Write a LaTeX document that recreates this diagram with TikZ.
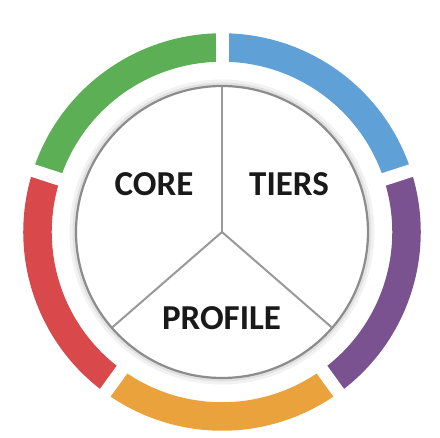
\documentclass[tikz,border=0pt]{standalone}
\usepackage{fontspec}
\setmainfont{Carlito}
\definecolor{segGreen}{HTML}{5DAF55}
\definecolor{segBlue}{HTML}{5FA0D7}
\definecolor{segPurple}{HTML}{7B5290}
\definecolor{segOrange}{HTML}{E9A23C}
\definecolor{segRed}{HTML}{D9484B}
\pgfdeclareradialshading{innerglow}{\pgfpoint{0bp}{0bp}}{color(0bp)=(white); color(34bp)=(white); color(44bp)=(black!9); color(50bp)=(black!32)}
\begin{document}
\begin{tikzpicture}[x=1pt,y=1pt,
  ringseg/.style={line width=28.5pt},
  gapcut/.style={white, line width=13pt},
  spoke/.style={draw=black!40, line width=2pt},
  seclabel/.style={font=\fontsize{35}{40}\selectfont\bfseries, text=black!90, inner sep=0pt}]
\useasboundingbox (0,0) rectangle (440,438);
\coordinate (c) at (222,206);

% outer ring of five coloured segments
\draw[ringseg, segBlue]   ([shift={(18:184.5)}]c)  arc[start angle=18,  end angle=90,  radius=184.5];
\draw[ringseg, segGreen]  ([shift={(90:184.5)}]c)  arc[start angle=90,  end angle=162, radius=184.5];
\draw[ringseg, segRed]    ([shift={(162:184.5)}]c) arc[start angle=162, end angle=234, radius=184.5];
\draw[ringseg, segOrange] ([shift={(234:184.5)}]c) arc[start angle=234, end angle=306, radius=184.5];
\draw[ringseg, segPurple] ([shift={(306:184.5)}]c) arc[start angle=306, end angle=378, radius=184.5];
\foreach \a in {18,90,162,234,306}
  \draw[gapcut] ([shift={(\a:160)}]c) -- ([shift={(\a:212)}]c);

% inner disc with soft shadow and glow
\fill[black, opacity=0.05] (c) circle (152.5);
\fill[black, opacity=0.07] (c) circle (149.5);
\shade[shading=innerglow] (c) circle (146);
\draw[black!45, line width=2.2pt] (c) circle (146);

% three dividers
\coordinate (top) at ([shift={(90:145)}]c);
\coordinate (ll) at ([shift={(221:145)}]c);
\coordinate (lr) at ([shift={(319:145)}]c);
\draw[spoke] (c) -- (top);
\draw[spoke] (c) -- (ll);
\draw[spoke] (c) -- (lr);

% section labels
\node[seclabel] (core) at (154,254) {CORE};
\node[seclabel] (tiers) at (289,254) {TIERS};
\node[seclabel] (profile) at (221.5,119.5) {PROFILE};
\end{tikzpicture}
\end{document}
